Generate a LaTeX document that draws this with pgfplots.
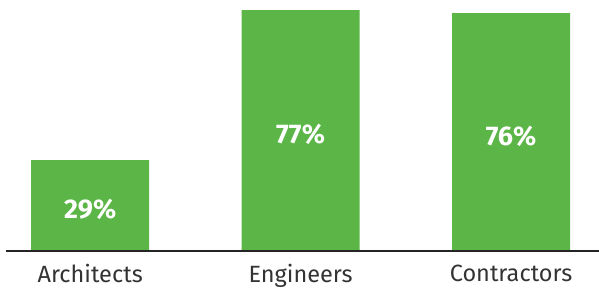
\documentclass[border=0pt]{standalone}
\usepackage{pgfplots}
\pgfplotsset{compat=1.18}
\usepackage{pgfplotstable}
\usepackage{fontspec}
\setmainfont{Fira Sans}
\definecolor{bargreen}{HTML}{5BB547}
\definecolor{labelgray}{HTML}{333333}
\pgfplotstableread{
x y half
0 29 14.5
1 77 38.5
2 76 38
}\datatable
\begin{document}
\begin{tikzpicture}[x=1pt,y=1pt]
\path[use as bounding box] (0,0) rectangle (599,291);
\begin{axis}[
  at={(6pt,40pt)}, anchor=south west,
  scale only axis, width=593pt, height=241pt,
  xmin=-0.4, xmax=2.418, ymin=0, ymax=77,
  clip=false,
  axis line style={draw=none},
  axis x line*=bottom,
  hide y axis,
  /pgf/number format/assume math mode=true,
  xtick=data, xticklabels={Architects,Engineers,Contractors},
  xtick style={draw=none},
  xticklabel style={font=\fontsize{23.5}{25}\selectfont, text=labelgray, yshift=-10pt},
  ytick=\empty,
]
\addplot[ybar, bar width=118pt, fill=bargreen, draw=none] table[x=x,y=y] {\datatable};
\addplot[draw=none, mark=none, point meta=explicit,
  nodes near coords={\pgfmathprintnumber{\pgfplotspointmeta}\%},
  nodes near coords align=center,
  every node near coord/.append style={font=\fontsize{27}{29}\selectfont\bfseries, text=white, yshift=-4pt}]
  table[x=x,y=half,meta=y] {\datatable};
\draw[labelgray!70!black, line width=2pt] (axis cs:-0.4,0) -- (axis cs:2.418,0);
\end{axis}
\end{tikzpicture}
\end{document}
